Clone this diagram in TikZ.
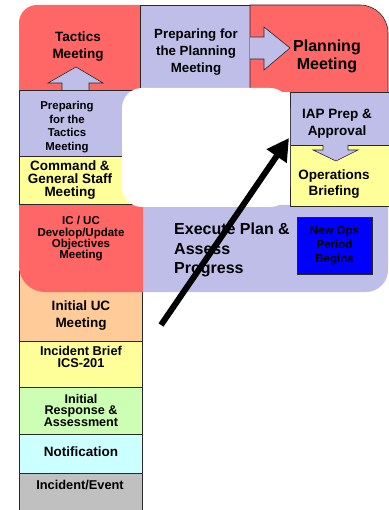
\documentclass[tikz,border=0pt]{standalone}
\usepackage{fontspec}
\setmainfont{Liberation Sans}
\usetikzlibrary{arrows.meta}
\definecolor{redbox}{RGB}{255,102,102}
\definecolor{lav}{RGB}{190,190,232}
\definecolor{yel}{RGB}{255,255,153}
\definecolor{peach}{RGB}{255,204,153}
\definecolor{grn}{RGB}{204,255,179}
\definecolor{cyn}{RGB}{204,255,255}
\definecolor{gry}{RGB}{192,192,192}
\definecolor{edge}{RGB}{40,40,40}
\begin{document}
\begin{tikzpicture}[x=1pt,y=1pt,
  lbl/.style={font=\bfseries, align=center, inner sep=0pt, text=black},
  bordered/.style={draw=edge, line width=0.6pt},
  blockarrow/.style={fill=lav, draw=edge, line width=0.6pt, line join=miter}
]
\useasboundingbox (0,0) rectangle (388,-510);

% lower left column
\path[fill=peach, bordered] (19,-270) rectangle (142,-341);
\path[fill=yel, bordered] (19,-341) rectangle (142,-387);
\path[fill=grn, bordered] (19,-387) rectangle (142,-434);
\path[fill=cyn, bordered] (19,-434) rectangle (142,-473);
\path[fill=gry, bordered] (19,-473) rectangle (142,-512);

% execute band and IC/UC
\fill[lav] (140,-205) -- (388,-205) -- (388,-270) arc[start angle=0,end angle=-90,radius=22] -- (140,-292) -- cycle;
\fill[redbox] (19,-204) -- (143,-204) -- (143,-292) -- (45,-292) arc[start angle=270,end angle=180,radius=26] -- cycle;

% top row
\fill[redbox] (19,-90) -- (19,-23) arc[start angle=180,end angle=90,radius=18] -- (140,-5) -- (140,-90) -- cycle;
\path[fill=lav, bordered] (140,-5) rectangle (250,-88);
\path[fill=redbox, bordered] (250,-92) -- (250,-5) -- (360,-5) arc[start angle=90,end angle=0,radius=28] -- (388,-92);

% left upper boxes
\path[fill=lav, bordered] (19,-90) rectangle (140,-156);
\path[fill=yel, bordered] (19,-156) rectangle (140,-204);

% right boxes
\path[fill=lav, bordered] (290,-92) rectangle (390,-145);
\path[fill=yel, bordered] (290,-145) rectangle (390,-206);

% inner white
\fill[white, rounded corners=20pt] (122,-88) rectangle (290,-207);

% block arrows
\path[blockarrow] (62,-90) -- (62,-83) -- (48,-83) -- (76,-67) -- (103,-83) -- (89,-83) -- (89,-90);
\path[blockarrow] (250,-37) -- (264,-37) -- (264,-27) -- (290,-48) -- (264,-70) -- (264,-59) -- (250,-59);
\path[blockarrow] (323,-145) -- (323,-150) -- (313,-150) -- (336,-161) -- (358,-150) -- (348,-150) -- (348,-145);

% labels
\node[lbl, font=\bfseries\fontsize{13.5}{17}\selectfont] (tactics) at (78,-47) {Tactics\\Meeting};
\node[lbl, font=\bfseries\fontsize{13.3}{17}\selectfont] (prepplan) at (196,-52) {Preparing for\\the Planning\\Meeting};
\node[lbl, font=\bfseries\fontsize{16}{18}\selectfont] (planning) at (327,-56) {Planning\\Meeting};
\node[lbl, font=\bfseries\fontsize{11.4}{13.7}\selectfont] (preptac) at (67,-127) {Preparing\\for the\\Tactics\\Meeting};
\node[lbl, font=\bfseries\fontsize{13.5}{13.3}\selectfont] (command) at (70,-180) {Command \&\\General Staff\\Meeting};
\node[lbl, font=\bfseries\fontsize{13.5}{16.7}\selectfont] (iap) at (337,-124) {IAP Prep \&\\Approval};
\node[lbl, font=\bfseries\fontsize{13.5}{16.7}\selectfont] (ops) at (334,-184) {Operations\\Briefing};
\node[lbl, align=left, anchor=west, font=\bfseries\fontsize{16}{19.5}\selectfont] (execute) at (174,-250) {Execute Plan \&\\Assess\\Progress};
\node[draw=edge, line width=0.8pt, fill=blue, minimum width=75pt, minimum height=57pt, inner sep=0pt, align=center, font=\bfseries\fontsize{11.5}{14}\selectfont] (newops) at (334.5,-245.5) {New Ops\\Period\\Begins};
\node[lbl, font=\bfseries\fontsize{11.5}{11.3}\selectfont] (icuc) at (81,-239) {IC / UC\\Develop/Update\\Objectives\\Meeting};
\node[lbl, font=\bfseries\fontsize{13.5}{17}\selectfont] (initialuc) at (81,-316) {Initial UC\\Meeting};
\node[lbl, font=\bfseries\fontsize{12.8}{12.3}\selectfont] (brief) at (81,-357) {Incident Brief\\ICS-201};
\node[lbl, font=\bfseries\fontsize{12.6}{11.5}\selectfont] (response) at (81,-410) {Initial\\Response \&\\Assessment};
\node[lbl, font=\bfseries\fontsize{13.5}{16}\selectfont] (notification) at (81,-452) {Notification};
\node[lbl, font=\bfseries\fontsize{12.8}{15}\selectfont] (event) at (80,-485) {Incident/Event};

% big black arrow
\coordinate (tail) at (161,-325);
\coordinate (tip) at (289,-138);
\draw[line width=6pt, -{Triangle[length=22pt,width=23pt]}] (tail) -- (tip);
\end{tikzpicture}
\end{document}
